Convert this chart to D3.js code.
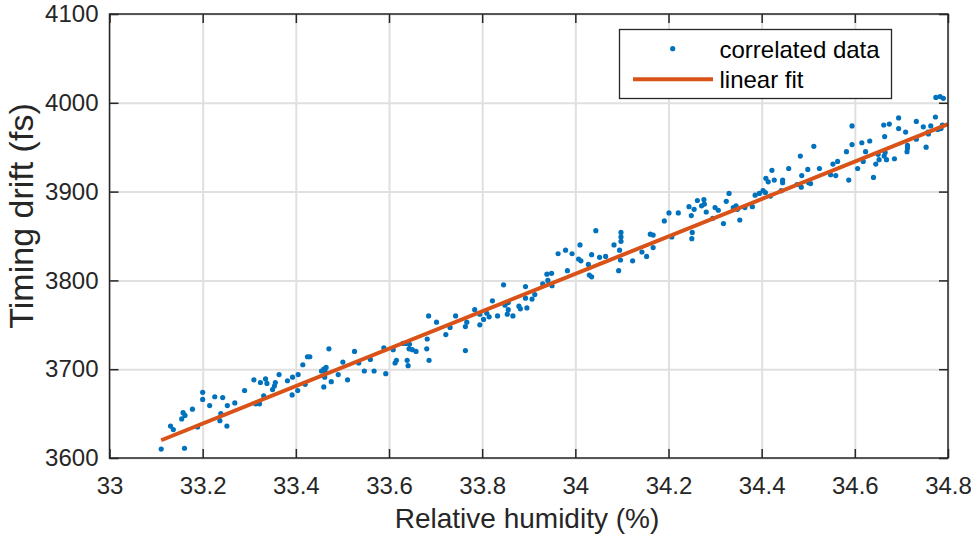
<!DOCTYPE html>
<html>
<head>
<meta charset="utf-8">
<style>
  html, body { margin: 0; padding: 0; background: #fff; }
  svg { display: block; font-family: "Liberation Sans", Arial, Helvetica, sans-serif; }
</style>
</head>
<body>
<div id="chart"></div>
<script src="https://cdn.jsdelivr.net/npm/d3@7"></script>
<script>
(function() {
    'use strict';

    // relative humidity (%) of each sample
    var humidity = [
        33.111, 33.161, 33.131, 33.137, 33.155, 33.158, 33.162, 33.178, 33.189, 33.200,
        33.200, 33.215, 33.226, 33.237, 33.239, 33.243, 33.253, 33.252, 33.269, 33.290,
        33.310, 33.314, 33.322, 33.324, 33.331, 33.335, 33.338, 33.350, 33.356, 33.354,
        33.364, 33.382, 33.392, 33.393, 33.404, 33.405, 33.415, 33.420, 33.425, 33.430,
        33.455, 33.460, 33.465, 33.463, 33.460, 33.462, 33.471, 33.476, 33.491, 33.501,
        33.511, 33.526, 33.535, 33.547, 33.560, 33.568, 33.589, 33.593, 33.609, 33.613,
        33.616, 33.630, 33.639, 33.641, 33.636, 33.644, 33.643, 33.650, 33.658, 33.681,
        33.682, 33.686, 33.685, 33.702, 33.722, 33.731, 33.743, 33.764, 33.764, 33.767,
        33.784, 33.795, 33.795, 33.803, 33.810, 33.815, 33.822, 33.833, 33.846, 33.849,
        33.856, 33.856, 33.854, 33.866, 33.879, 33.882, 33.893, 33.893, 33.896, 33.907,
        33.913, 33.930, 33.939, 33.941, 33.949, 33.950, 33.963, 33.979, 33.983, 33.993,
        34.007, 34.012, 34.010, 34.028, 34.030, 34.035, 34.035, 34.044, 34.052, 34.065,
        34.083, 34.093, 34.095, 34.097, 34.098, 34.098, 34.098, 34.123, 34.143, 34.153,
        34.161, 34.167, 34.167, 34.191, 34.201, 34.207, 34.221, 34.244, 34.249, 34.251,
        34.250, 34.255, 34.262, 34.271, 34.277, 34.276, 34.281, 34.295, 34.300, 34.307,
        34.318, 34.324, 34.330, 34.339, 34.348, 34.345, 34.353, 34.364, 34.380, 34.386,
        34.395, 34.403, 34.408, 34.419, 34.409, 34.414, 34.422, 34.427, 34.442, 34.445,
        34.445, 34.458, 34.476, 34.483, 34.485, 34.486, 34.499, 34.501, 34.505, 34.512,
        34.524, 34.548, 34.553, 34.559, 34.563, 34.582, 34.587, 34.594, 34.594, 34.606,
        34.615, 34.618, 34.623, 34.632, 34.640, 34.645, 34.650, 34.652, 34.662, 34.664,
        34.663, 34.665, 34.668, 34.674, 34.685, 34.694, 34.694, 34.709, 34.713, 34.713,
        34.712, 34.732, 34.732, 34.747, 34.753, 34.757, 34.758, 34.763, 34.773, 34.778,
        34.785, 34.774, 34.783, 34.790, 34.788
    ];

    // timing drift (fs) of each sample
    var drift = [
        3610, 3611, 3636, 3632, 3644, 3651, 3648, 3655, 3635, 3674,
        3666, 3659, 3669, 3642, 3650, 3668, 3659, 3636, 3662, 3676,
        3688, 3661, 3661, 3685, 3670, 3689, 3684, 3677, 3685, 3681,
        3694, 3687, 3671, 3691, 3676, 3694, 3705, 3683, 3714, 3714,
        3698, 3700, 3702, 3697, 3680, 3691, 3723, 3686, 3694, 3708,
        3688, 3720, 3707, 3698, 3711, 3698, 3724, 3695, 3722, 3707,
        3710, 3729, 3710, 3704, 3729, 3728, 3723, 3722, 3720, 3723,
        3734, 3710, 3760, 3753, 3739, 3747, 3760, 3721, 3748, 3753,
        3767, 3762, 3750, 3756, 3763, 3759, 3777, 3760, 3795, 3772,
        3775, 3767, 3762, 3760, 3771, 3768, 3793, 3780, 3769, 3779,
        3784, 3796, 3807, 3800, 3808, 3794, 3830, 3834, 3811, 3830,
        3824, 3822, 3840, 3818, 3806, 3804, 3829, 3856, 3826, 3827,
        3840, 3811, 3834, 3823, 3854, 3849, 3844, 3822, 3832, 3827,
        3852, 3851, 3837, 3867, 3876, 3849, 3876, 3883, 3873, 3854,
        3847, 3880, 3890, 3884, 3886, 3891, 3877, 3870, 3882, 3879,
        3864, 3889, 3898, 3882, 3880, 3884, 3868, 3882, 3883, 3896,
        3898, 3901, 3899, 3895, 3915, 3911, 3924, 3913, 3901, 3913,
        3910, 3926, 3908, 3940, 3905, 3918, 3925, 3910, 3909, 3951,
        3926, 3919, 3931, 3918, 3934, 3945, 3913, 3974, 3953, 3926,
        3955, 3934, 3945, 3957, 3916, 3931, 3942, 3936, 3975, 3962,
        3940, 3944, 3936, 3976, 3937, 3983, 3971, 3967, 3952, 3949,
        3945, 3979, 3959, 3973, 3950, 3967, 3965, 3974, 3984, 3970,
        3971, 4006, 4007, 4005, 3975
    ];

    // end points of the linear fit
    var fitHumidity = [33.111, 34.8];
    var fitDrift = [3620, 3976];

    var xTicks = [33, 33.2, 33.4, 33.6, 33.8, 34, 34.2, 34.4, 34.6, 34.8];
    var yTicks = [3600, 3700, 3800, 3900, 4000, 4100];
    var legendLabels = ['correlated data', 'linear fit'];

    var stage = { width: 971, height: 535 };
    var plot = { left: 109.5, right: 948, top: 14, bottom: 458 };
    var ink = '#262626';
    var blue = '#0072BD';
    var orange = '#D95319';

    var x = d3.scaleLinear().domain([33, 34.8]).range([plot.left, plot.right]);
    var y = d3.scaleLinear().domain([3600, 4100]).range([plot.bottom, plot.top]);

    var svg = d3.select('#chart')
        .append('svg')
        .attr('width', stage.width)
        .attr('height', stage.height)
        .attr('xmlns', 'http://www.w3.org/2000/svg');

    // grid lines
    var grid = svg.append('g').attr('class', 'grid');

    grid.append('g')
        .attr('transform', 'translate(0,' + plot.bottom + ')')
        .call(d3.axisBottom(x).tickValues(xTicks).tickFormat('')
            .tickSize(-(plot.bottom - plot.top)));

    grid.append('g')
        .attr('transform', 'translate(' + plot.left + ',0)')
        .call(d3.axisLeft(y).tickValues(yTicks).tickFormat('')
            .tickSize(-(plot.right - plot.left)));

    grid.selectAll('.domain').remove();
    grid.selectAll('line')
        .attr('stroke', '#e0e0e0')
        .attr('stroke-width', 2);

    // samples
    var points = humidity.map(function(h, i) {
        return { h: h, d: drift[i] };
    });

    svg.append('g')
        .attr('class', 'samples')
        .selectAll('circle')
        .data(points).enter()
        .append('circle')
        .attr('cx', function(d) { return x(d.h); })
        .attr('cy', function(d) { return y(d.d); })
        .attr('r', 2.6)
        .attr('fill', blue);

    // linear fit
    var fit = fitHumidity.map(function(h, i) {
        return { h: h, d: fitDrift[i] };
    });

    svg.append('path')
        .datum(fit)
        .attr('fill', 'none')
        .attr('stroke', orange)
        .attr('stroke-width', 4)
        .attr('d', d3.line()
            .x(function(d) { return x(d.h); })
            .y(function(d) { return y(d.d); }));

    // axes, ticks pointing inwards on all four sides
    var axes = svg.append('g').attr('class', 'axes');

    axes.append('g')
        .attr('transform', 'translate(0,' + plot.bottom + ')')
        .call(d3.axisBottom(x).tickValues(xTicks).tickFormat(d3.format('')).tickSizeInner(-9)
            .tickSizeOuter(0).tickPadding(19));

    axes.append('g')
        .attr('transform', 'translate(0,' + plot.top + ')')
        .call(d3.axisTop(x).tickValues(xTicks).tickFormat('').tickSizeInner(-9).tickSizeOuter(0));

    axes.append('g')
        .attr('transform', 'translate(' + plot.left + ',0)')
        .call(d3.axisLeft(y).tickValues(yTicks).tickFormat(d3.format('')).tickSizeInner(-9)
            .tickSizeOuter(0).tickPadding(11));

    axes.append('g')
        .attr('transform', 'translate(' + plot.right + ',0)')
        .call(d3.axisRight(y).tickValues(yTicks).tickFormat('').tickSizeInner(-9).tickSizeOuter(0));

    axes.selectAll('.domain').remove();
    axes.selectAll('line')
        .attr('stroke', ink)
        .attr('stroke-width', 1.5);
    axes.selectAll('text')
        .attr('fill', ink)
        .attr('font-family', null)
        .attr('font-size', 24);

    axes.append('rect')
        .attr('x', plot.left)
        .attr('y', plot.top)
        .attr('width', plot.right - plot.left)
        .attr('height', plot.bottom - plot.top)
        .attr('fill', 'none')
        .attr('stroke', ink)
        .attr('stroke-width', 1.5);

    // axis titles
    svg.append('text')
        .attr('x', 527)
        .attr('y', 527.5)
        .attr('text-anchor', 'middle')
        .attr('font-size', 28)
        .attr('fill', ink)
        .text('Relative humidity (%)');

    svg.append('text')
        .attr('transform', 'translate(33,216) rotate(-90)')
        .attr('text-anchor', 'middle')
        .attr('font-size', 34)
        .attr('fill', ink)
        .text('Timing drift (fs)');

    // legend
    var legend = svg.append('g').attr('class', 'legend');

    legend.append('rect')
        .attr('x', 619.5)
        .attr('y', 29.5)
        .attr('width', 272)
        .attr('height', 69)
        .attr('fill', '#fff')
        .attr('stroke', ink)
        .attr('stroke-width', 1.3);

    legend.append('circle')
        .attr('cx', 672.7)
        .attr('cy', 48.7)
        .attr('r', 2.6)
        .attr('fill', blue);

    legend.append('line')
        .attr('x1', 633)
        .attr('x2', 713)
        .attr('y1', 79.3)
        .attr('y2', 79.3)
        .attr('stroke', orange)
        .attr('stroke-width', 4);

    legend.selectAll('text')
        .data(legendLabels).enter()
        .append('text')
        .attr('x', 719.5)
        .attr('y', function(d, i) { return 58.3 + i * 30; })
        .attr('font-size', 24)
        .attr('fill', '#000')
        .text(function(d) { return d; });
})();
</script>
</body>
</html>
